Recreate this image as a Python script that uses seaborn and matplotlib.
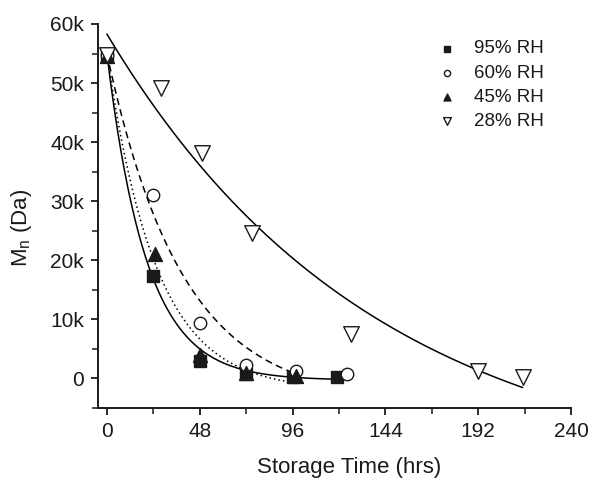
import numpy as np
import pandas as pd
import matplotlib
matplotlib.use("Agg")
import matplotlib.pyplot as plt
import seaborn as sns
from matplotlib.ticker import MultipleLocator, FuncFormatter

# ---- data (Mn in Da, time in hrs) ----
labels = ["95% RH", "60% RH", "45% RH", "28% RH"]

t_95 = [0, 24, 48, 72, 96, 119]
mn_95 = [54500, 17300, 3000, 700, 200, 200]

t_60 = [0, 24, 48, 72, 98, 124]
mn_60 = [54800, 31000, 9400, 2300, 1200, 700]

t_45 = [0, 25, 48, 72, 98]
mn_45 = [54600, 21000, 4000, 1000, 500]

t_28 = [0, 28, 49, 75, 126, 192, 215]
mn_28 = [54700, 49200, 38100, 24600, 7500, 1200, 300]

# exponential-decay fit parameters: (A, k, c, t_end) -> Mn = A*exp(-k t) + c
fit_95 = (55300, 0.0488, -300, 120)
fit_60 = (59000, 0.0257, -4000, 100)
fit_45 = (57000, 0.0392, -2000, 98)
fit_28 = (76000, 0.0072, -17700, 215)

x_ticks = [0, 48, 96, 144, 192, 240]
y_ticks = [0, 10000, 20000, 30000, 40000, 50000, 60000]

sns.set_theme(style="ticks")
plt.rcParams["font.family"] = ["Liberation Sans", "DejaVu Sans"]

fig = plt.figure(figsize=(5.93, 4.80), dpi=100)
ax = fig.add_axes([98 / 593, 1 - 408 / 480, (571 - 98) / 593, (408 - 24) / 480])

def curve(p):
    A, k, c, tend = p
    tt = np.linspace(0, tend, 200)
    return tt, A * np.exp(-k * tt) + c

for p, ls in [(fit_95, "-"), (fit_60, (0, (4.5, 3))), (fit_45, (0, (1, 2))), (fit_28, "-")]:
    tt, yy = curve(p)
    sns.lineplot(x=tt, y=yy, ax=ax, color="black", lw=1.1, linestyle=ls, sort=False)

series = [
    (t_95, mn_95, "s", "#1a1a1a", 75),
    (t_60, mn_60, "o", "white", 80),
    (t_45, mn_45, "^", "#1a1a1a", 100),
    (t_28, mn_28, "v", "white", 125),
]
for (tx, my, mk, fc, s), lab in zip(series, labels):
    sns.scatterplot(x=tx, y=my, ax=ax, marker=mk, s=s, facecolor=fc,
                    edgecolor="#1a1a1a", linewidth=1.0, label=lab, zorder=3)

ax.set_xlim(-4.6, 240)
ax.set_ylim(-5000, 60000)
ax.set_xticks(x_ticks)
ax.set_yticks(y_ticks)
ax.xaxis.set_minor_locator(MultipleLocator(24))
ax.yaxis.set_minor_locator(MultipleLocator(5000))
ax.yaxis.set_major_formatter(FuncFormatter(lambda v, pos: "0" if v == 0 else f"{int(v/1000)}k"))

for side in ["top", "right"]:
    ax.spines[side].set_visible(False)
for side in ["left", "bottom"]:
    ax.spines[side].set_linewidth(1.4)
    ax.spines[side].set_color("#1a1a1a")

ax.tick_params(axis="both", which="major", direction="out", length=5, width=1.3,
               labelsize=15, colors="#1a1a1a", pad=5)
ax.tick_params(axis="both", which="minor", direction="out", length=4, width=1.1, colors="#1a1a1a")

ax.set_xlabel("Storage Time (hrs)", fontsize=16, color="#1a1a1a")
ax.xaxis.set_label_coords(0.53, -0.127)
ax.set_ylabel(r"M$_\mathregular{n}$ (Da)", fontsize=16, color="#1a1a1a")
ax.yaxis.set_label_coords(-0.135, 0.47)

leg = ax.legend(loc="upper left", bbox_to_anchor=(0.703, 0.977), frameon=False,
                fontsize=13.5, markerscale=0.5, handletextpad=0.9, labelspacing=0.38,
                handlelength=1.0, borderaxespad=0)
for txt in leg.get_texts():
    txt.set_color("#1a1a1a")

fig.savefig("out.png", dpi=100, facecolor="white")
